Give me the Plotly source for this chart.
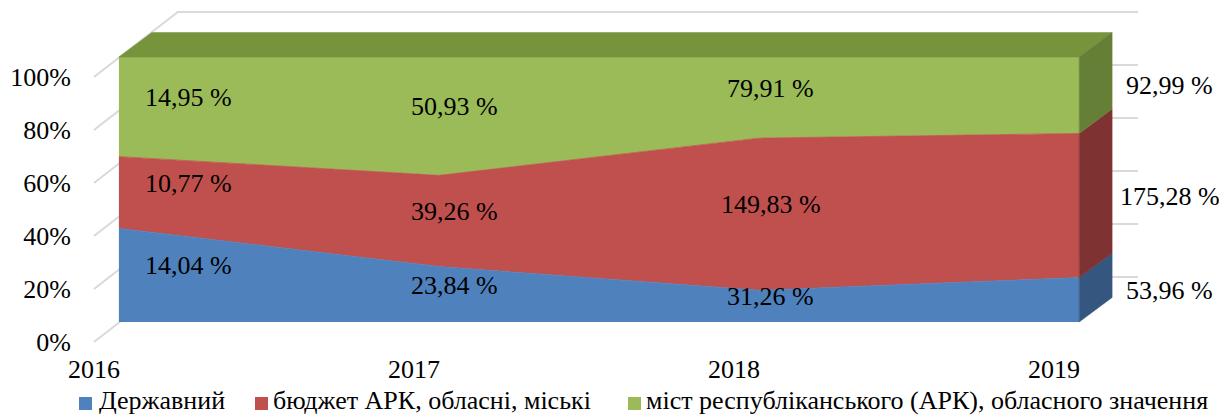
import numpy as np
import plotly.graph_objects as go

# ---------------- data ----------------
categories = ["2016", "2017", "2018", "2019"]
derzhavnyi = [14.04, 23.84, 31.26, 53.96]
biudzhet = [10.77, 39.26, 149.83, 175.28]
mist = [14.95, 50.93, 79.91, 92.99]
series_names = ["Державний",
                "бюджет АРК, обласні, міські",
                "міст республіканського (АРК), обласного значення"]
y_ticks = [0, 20, 40, 60, 80, 100]
y_tick_text = [f"{t}%" for t in y_ticks]

# ---------------- style ----------------
colors_front = ["#4F81BD", "#C0504D", "#9BBB59"]
colors_side = ["#35567F", "#7E3332", "#667F37"]
color_top = "#77933C"
grid_color = "#D9D9D9"
FONT = "Times New Roman, Liberation Serif, DejaVu Serif, serif"
FS = 26

# ---------------- geometry (page pixels of the 3D look) ----------------
PAGE_W, PAGE_H = 1227, 418
OFF = 8                      # default body margin of the html page
W, H = PAGE_W - OFF, PAGE_H - OFF
L, R, T, B = 70, 1170, 10, 350
X0PX, X3PX = 117, 1079
Y0PX, Y100PX = 322, 57
ppu = (X3PX - X0PX) / 3.0
ppp = (Y0PX - Y100PX) / 100.0


def xd(px):
    return (px - X0PX) / ppu


def yd(py):
    return (Y0PX - py) / ppp


def xp(px):
    return (px - L) / (R - L)


def yp(py):
    return (B - py) / (B - T)


depth_dx, depth_dy = 33 / ppu, 24.5 / ppp
wall_front = (-25 / ppu, -20 / ppp)
wall_back = (59 / ppu, 45 / ppp)

vals = np.array([derzhavnyi, biudzhet, mist], dtype=float)
pct = vals / vals.sum(axis=0) * 100
cum = np.cumsum(pct, axis=0)
lo = np.vstack([np.zeros(len(categories)), cum[:-1]])
x_idx = np.arange(len(categories))
xn = x_idx[-1]

fig = go.Figure()

# back wall + side wall grid lines
gx, gy = [], []
for t in y_ticks:
    gx += [wall_front[0], wall_back[0], xn + wall_back[0], None]
    gy += [t + wall_front[1], t + wall_back[1], t + wall_back[1], None]
fig.add_trace(go.Scatter(x=gx, y=gy, mode="lines",
                         line=dict(color=grid_color, width=2),
                         hoverinfo="skip", showlegend=False))

# front faces (100% stacked area)
for i, s in enumerate([derzhavnyi, biudzhet, mist]):
    fig.add_trace(go.Scatter(x=x_idx, y=s, name=series_names[i],
                             stackgroup="front", groupnorm="percent",
                             mode="lines",
                             line=dict(width=0.8, color=colors_front[i]),
                             fillcolor=colors_front[i],
                             hoverinfo="skip", showlegend=False))

# top face
top = cum[-1]
fig.add_trace(go.Scatter(
    x=[x_idx[0], xn, xn + depth_dx, x_idx[0] + depth_dx, x_idx[0]],
    y=[top[0], top[-1], top[-1] + depth_dy, top[0] + depth_dy, top[0]],
    fill="toself", fillcolor=color_top, mode="lines",
    line=dict(width=0.5, color=color_top), hoverinfo="skip", showlegend=False))

# right side faces
for i in range(3):
    a, b = lo[i, -1], cum[i, -1]
    fig.add_trace(go.Scatter(
        x=[xn, xn + depth_dx, xn + depth_dx, xn, xn],
        y=[a, a + depth_dy, b + depth_dy, b, a],
        fill="toself", fillcolor=colors_side[i], mode="lines",
        line=dict(width=0.5, color=colors_side[i]),
        hoverinfo="skip", showlegend=False))

annotations = []
# data labels
label_dx = [0.218, 0.048, 0.036, 0.283]
for i in range(3):
    for j in range(len(categories)):
        mid = (lo[i, j] + cum[i, j]) / 2 + 3.5
        txt = f"{vals[i, j]:.2f}".replace(".", ",") + " %"
        annotations.append(dict(x=j + label_dx[j], y=mid, xref="x", yref="y",
                                text=txt, showarrow=False, xanchor="center",
                                yanchor="middle",
                                font=dict(family=FONT, size=FS, color="#000000")))

# category labels (on the front floor edge)
for j, c in enumerate(categories):
    xpix = X0PX + (j + wall_front[0]) * ppu
    annotations.append(dict(x=xp(xpix), y=yp(369), xref="paper", yref="paper",
                            text=c, showarrow=False, xanchor="center",
                            yanchor="middle",
                            font=dict(family=FONT, size=FS, color="#000000")))

# legend (manual)
leg_sq_px = [84, 260, 634]
leg_txt_px = [96, 270, 644]
LEG_Y = 401
for i in range(3):
    annotations.append(dict(x=xp(leg_sq_px[i]), y=yp(LEG_Y + 3), xref="paper", yref="paper",
                            text="", showarrow=False, width=13, height=13,
                            bgcolor=colors_front[i], borderpad=0, borderwidth=0,
                            xanchor="center", yanchor="middle"))
    annotations.append(dict(x=xp(leg_txt_px[i]), y=yp(LEG_Y), xref="paper", yref="paper",
                            text=series_names[i], showarrow=False,
                            xanchor="left", yanchor="middle", borderpad=0,
                            font=dict(family=FONT, size=FS, color="#000000")))

fig.update_layout(
    width=W, height=H,
    margin=dict(l=L - OFF, r=PAGE_W - R, t=T - OFF, b=PAGE_H - B, pad=0),
    paper_bgcolor="white", plot_bgcolor="white",
    showlegend=False,
    font=dict(family=FONT, size=FS, color="#000000"),
    xaxis=dict(range=[xd(L), xd(R)], visible=False, fixedrange=True),
    yaxis=dict(range=[yd(B), yd(T)], showgrid=False, zeroline=False,
               showline=False, ticks="",
               tickvals=[t + wall_front[1] for t in y_ticks],
               ticktext=y_tick_text,
               tickfont=dict(family=FONT, size=FS, color="#000000"),
               fixedrange=True),
    annotations=annotations,
)

fig.write_html("out.html")
